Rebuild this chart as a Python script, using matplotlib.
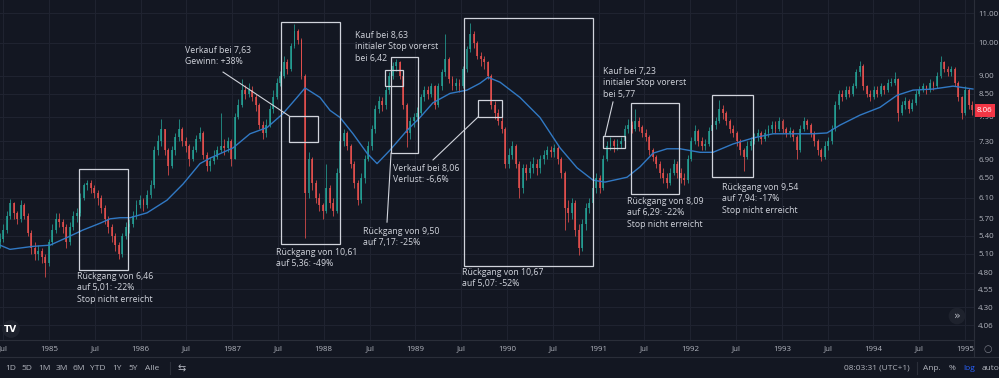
import numpy as np
import matplotlib
matplotlib.use("Agg")
import matplotlib.pyplot as plt
import matplotlib.transforms as mtransforms
from matplotlib.patches import Rectangle
from matplotlib.ticker import NullLocator, NullFormatter

# two-week candles, starting mid 1984
start_year = 1984.46
step_years = 14 / 365.25
first_open = 5.30

close = [
    5.35, 5.50, 5.75, 6.00, 5.80, 5.70, 5.95, 5.75, 5.45, 5.20,
    5.10, 5.15, 5.05, 4.95, 5.30, 5.50, 5.70, 5.65, 5.55, 5.30,
    5.55, 5.75, 5.80, 6.10, 6.35, 6.40, 6.30, 6.20, 6.10, 5.90,
    5.70, 5.55, 5.40, 5.25, 5.10, 5.40, 5.55, 5.60, 5.75, 5.95,
    6.05, 5.95, 6.15, 6.35, 7.10, 7.30, 7.60, 7.10, 6.75, 7.10,
    7.40, 7.60, 7.30, 7.20, 6.90, 7.10, 7.35, 7.50, 7.00, 6.75,
    6.85, 6.95, 7.10, 7.20, 7.15, 7.30, 6.90, 7.90, 8.20, 8.60,
    8.50, 8.60, 8.40, 8.20, 7.70, 7.50, 7.70, 8.10, 8.40, 8.80,
    9.00, 9.40, 9.20, 9.90, 10.40, 10.10, 9.00, 6.20, 6.90, 6.40,
    6.10, 5.95, 5.85, 6.30, 6.00, 5.85, 6.60, 7.30, 7.50, 7.20,
    6.80, 6.40, 6.05, 6.50, 6.90, 7.20, 7.60, 8.10, 8.30, 8.20,
    8.60, 9.00, 9.30, 9.40, 9.00, 8.20, 7.50, 7.80, 7.90, 8.00,
    8.40, 8.60, 8.50, 8.70, 8.20, 8.70, 9.10, 9.50, 8.90, 8.70,
    8.80, 8.70, 9.20, 9.80, 10.30, 10.00, 9.60, 9.50, 9.40, 9.00,
    8.20, 8.00, 7.80, 7.60, 6.80, 7.00, 7.20, 6.80, 6.30, 6.70,
    6.60, 6.70, 6.80, 6.70, 6.90, 7.00, 7.10, 7.05, 7.15, 6.90,
    6.60, 5.90, 5.80, 6.00, 5.50, 5.20, 5.60, 5.90, 6.00, 6.30,
    6.50, 6.30, 6.90, 7.20, 7.30, 7.20, 7.25, 7.30, 7.60, 7.70,
    7.60, 7.80, 7.65, 7.50, 7.40, 7.10, 6.95, 6.80, 6.60, 6.50,
    6.40, 6.60, 6.80, 6.60, 6.50, 6.45, 6.90, 7.30, 7.55, 7.30,
    7.20, 7.25, 7.55, 7.70, 7.80, 8.10, 8.00, 7.80, 7.60, 7.50,
    7.30, 7.10, 6.95, 7.20, 7.30, 7.40, 7.50, 7.35, 7.50, 7.60,
    7.70, 7.60, 7.80, 7.60, 7.50, 7.55, 7.40, 7.10, 7.60, 7.80,
    7.70, 7.50, 7.30, 7.10, 6.95, 7.20, 7.30, 7.60, 8.20, 8.50,
    8.40, 8.60, 8.50, 8.70, 9.10, 9.30, 8.70, 8.50, 8.40, 8.60,
    8.50, 8.70, 8.60, 8.80, 8.80, 8.90, 8.00, 8.20, 8.30, 8.10,
    8.25, 8.50, 8.60, 8.70, 8.60, 8.80, 8.70, 9.00, 9.40, 9.20,
    9.10, 9.20, 8.80, 8.40, 8.00, 8.60, 8.20, 8.06,
]
high = [
    5.45, 5.60, 5.85, 6.08, 6.02, 5.85, 6.05, 6.00, 5.80, 5.50,
    5.30, 5.25, 5.20, 5.10, 5.35, 5.60, 5.80, 5.80, 5.70, 5.60,
    5.65, 5.85, 5.90, 6.20, 6.40, 6.46, 6.45, 6.35, 6.25, 6.15,
    5.95, 5.75, 5.60, 5.45, 5.30, 5.45, 5.65, 5.70, 5.85, 6.05,
    6.15, 6.10, 6.25, 6.45, 7.20, 7.45, 7.85, 7.60, 7.15, 7.20,
    7.50, 7.85, 7.65, 7.40, 7.25, 7.20, 7.45, 7.65, 7.55, 7.05,
    6.95, 7.10, 7.20, 8.00, 7.35, 7.40, 7.35, 8.00, 8.35, 8.90,
    8.75, 8.80, 8.70, 8.50, 8.25, 7.80, 7.85, 8.20, 8.60, 8.95,
    9.15, 9.60, 9.50, 10.00, 10.61, 10.45, 10.15, 9.05, 7.05, 6.95,
    6.45, 6.20, 6.00, 6.80, 6.35, 6.10, 6.70, 7.40, 7.60, 7.55,
    7.25, 6.85, 6.45, 6.60, 7.00, 7.30, 7.70, 8.20, 8.45, 8.40,
    8.70, 9.10, 9.40, 9.50, 9.45, 9.05, 8.25, 7.90, 8.00, 8.15,
    8.50, 8.70, 8.70, 8.80, 8.75, 8.80, 9.20, 10.30, 9.55, 9.00,
    8.95, 8.90, 9.30, 9.90, 10.67, 10.40, 10.05, 9.70, 9.60, 9.45,
    9.05, 8.30, 8.10, 7.90, 7.65, 7.15, 7.30, 7.25, 6.85, 6.80,
    6.80, 6.85, 6.95, 6.90, 7.00, 7.10, 7.20, 7.20, 7.25, 7.20,
    6.95, 6.65, 6.05, 6.10, 6.05, 5.60, 5.70, 6.00, 6.10, 6.40,
    6.60, 6.55, 7.00, 7.30, 7.40, 7.35, 7.35, 7.40, 7.70, 7.85,
    7.80, 8.09, 7.90, 7.70, 7.60, 7.45, 7.15, 7.00, 6.85, 6.70,
    6.60, 6.70, 6.90, 6.85, 6.70, 6.60, 7.00, 7.40, 7.70, 7.60,
    7.40, 7.35, 7.65, 7.80, 7.90, 8.33, 8.20, 8.05, 7.85, 7.70,
    7.55, 7.35, 7.15, 7.30, 7.40, 7.50, 7.60, 7.55, 7.60, 7.70,
    7.80, 7.80, 7.90, 7.85, 7.65, 7.65, 7.60, 7.45, 7.70, 7.90,
    7.85, 7.75, 7.55, 7.35, 7.15, 7.30, 7.40, 7.70, 8.30, 8.60,
    8.60, 8.70, 8.70, 8.80, 9.20, 9.45, 9.35, 8.75, 8.60, 8.70,
    8.70, 8.80, 8.75, 8.90, 8.95, 9.10, 8.95, 8.30, 8.40, 8.35,
    8.35, 8.60, 8.70, 8.80, 8.75, 8.90, 8.85, 9.10, 9.60, 9.45,
    9.30, 9.30, 9.25, 8.85, 8.45, 8.70, 8.65, 8.30,
]
low = [
    5.20, 5.30, 5.45, 5.70, 5.70, 5.60, 5.65, 5.70, 5.40, 5.10,
    5.00, 5.00, 4.95, 4.73, 4.90, 5.25, 5.45, 5.55, 5.45, 5.20,
    5.25, 5.50, 5.65, 5.75, 6.05, 6.25, 6.20, 6.10, 5.95, 5.80,
    5.60, 5.45, 5.30, 5.15, 5.01, 5.05, 5.35, 5.45, 5.55, 5.70,
    5.90, 5.85, 5.90, 6.10, 6.30, 7.00, 7.20, 7.00, 6.55, 6.70,
    7.00, 7.30, 7.20, 7.05, 6.75, 6.85, 7.05, 7.30, 6.90, 6.65,
    6.65, 6.80, 6.90, 7.05, 7.00, 7.05, 6.75, 6.90, 7.85, 8.15,
    8.35, 8.40, 8.30, 8.05, 7.60, 7.35, 7.40, 7.65, 8.00, 8.35,
    8.70, 8.95, 9.05, 9.15, 9.85, 9.95, 8.90, 5.36, 6.10, 6.25,
    6.00, 5.85, 5.70, 5.80, 5.90, 5.75, 5.80, 6.50, 7.20, 7.10,
    6.70, 6.30, 5.95, 6.00, 6.40, 6.85, 7.10, 7.50, 8.00, 8.05,
    8.10, 8.50, 8.90, 9.15, 8.90, 8.10, 7.17, 7.35, 7.65, 7.80,
    7.95, 8.30, 8.35, 8.40, 8.10, 8.15, 8.60, 9.00, 8.80, 8.60,
    8.60, 8.55, 8.65, 9.10, 9.70, 9.85, 9.50, 9.30, 9.20, 8.90,
    8.10, 7.85, 7.70, 7.50, 6.70, 6.70, 6.90, 6.70, 6.10, 6.20,
    6.45, 6.50, 6.60, 6.55, 6.60, 6.80, 6.90, 6.95, 6.95, 6.80,
    6.50, 5.50, 5.65, 5.70, 5.40, 5.07, 5.15, 5.50, 5.80, 5.90,
    6.20, 6.20, 6.25, 6.85, 7.10, 7.05, 7.10, 7.15, 7.25, 7.50,
    7.50, 7.55, 7.55, 7.40, 7.30, 7.00, 6.85, 6.70, 6.50, 6.40,
    6.29, 6.35, 6.55, 6.50, 6.40, 6.35, 6.40, 6.85, 7.25, 7.20,
    7.10, 7.10, 7.20, 7.50, 7.60, 7.75, 7.85, 7.70, 7.50, 7.40,
    7.20, 7.00, 6.65, 6.90, 7.10, 7.25, 7.30, 7.25, 7.30, 7.40,
    7.50, 7.50, 7.55, 7.50, 7.40, 7.40, 7.30, 6.90, 7.05, 7.55,
    7.60, 7.40, 7.20, 7.00, 6.85, 6.90, 7.10, 7.25, 7.55, 8.10,
    8.30, 8.35, 8.40, 8.45, 8.65, 9.00, 8.60, 8.40, 8.30, 8.35,
    8.40, 8.45, 8.50, 8.55, 8.70, 8.75, 7.80, 7.95, 8.10, 8.00,
    8.05, 8.20, 8.45, 8.55, 8.50, 8.55, 8.60, 8.65, 8.95, 9.10,
    9.00, 9.00, 8.70, 8.30, 7.85, 7.95, 8.10, 7.95,
]

# moving average line
ma_years = [
    1984.465, 1984.574, 1984.825, 1985.011, 1985.197, 1985.371, 1985.557,
    1985.666, 1985.775, 1985.884, 1986.070, 1986.288, 1986.463, 1986.648,
    1986.758, 1987.009, 1987.194, 1987.380, 1987.555, 1987.707, 1987.795,
    1987.959, 1988.068, 1988.177, 1988.319, 1988.472, 1988.581, 1988.723,
    1988.908, 1989.050, 1989.192, 1989.378, 1989.563, 1989.705, 1989.793,
    1989.924, 1990.142, 1990.360, 1990.579, 1990.764, 1990.939, 1991.070,
    1991.310, 1991.452, 1991.594, 1991.747, 1991.889, 1992.107, 1992.249,
    1992.467, 1992.686, 1992.904, 1993.122, 1993.341, 1993.493, 1993.635,
    1993.854, 1994.072, 1994.258, 1994.432, 1994.651, 1994.869, 1995.087,
]
ma_values = [
    5.24, 5.17, 5.22, 5.24, 5.37, 5.50, 5.62,
    5.70, 5.72, 5.72, 5.81, 6.05, 6.37, 6.80,
    6.92, 7.15, 7.48, 7.63, 7.98, 8.40, 8.66,
    8.40, 8.06, 7.88, 7.48, 7.03, 6.80, 7.10,
    7.56, 7.88, 8.26, 8.51, 8.60, 8.79, 8.96,
    8.82, 8.40, 7.88, 7.15, 6.71, 6.45, 6.41,
    6.51, 6.73, 7.03, 7.13, 7.13, 7.05, 7.05,
    7.24, 7.38, 7.48, 7.48, 7.48, 7.50, 7.69,
    7.94, 8.14, 8.46, 8.60, 8.63, 8.71, 8.63,
]

price_ticks = [4.06, 4.30, 4.55, 4.80, 5.10, 5.40, 5.70, 6.10, 6.50,
               6.90, 7.30, 7.90, 8.50, 9.00, 10.00, 11.00]
year_ticks = [1984.5, 1985, 1985.5, 1986, 1986.5, 1987, 1987.5, 1988, 1988.5,
              1989, 1989.5, 1990, 1990.5, 1991, 1991.5, 1992, 1992.5, 1993,
              1993.5, 1994, 1994.5, 1995]
year_labels = ["Jul", "1985", "Jul", "1986", "Jul", "1987", "Jul", "1988", "Jul",
               "1989", "Jul", "1990", "Jul", "1991", "Jul", "1992", "Jul", "1993",
               "Jul", "1994", "Jul", "1995"]
last_price = 8.06

BG = "#131722"
GRID = "#1f2330"
SEP = "#2a2e39"
TXT = "#b2b5be"
ANN = "#d1d4dc"
UP = "#26a69a"
DOWN = "#ef5350"
MA_COLOR = "#3179c4"
FONT = "Open Sans"

W, H = 999, 378
fig = plt.figure(figsize=(W / 100, H / 100), dpi=100, facecolor=BG)
ax = fig.add_axes([0, 38 / H, 974 / W, 340 / H])
ax.set_facecolor(BG)
ax.set_yscale("log")
ax.set_xlim(1984.465, 1995.098)
ax.set_ylim(3.87, 11.47)

# axes / grid
ax.yaxis.tick_right()
ax.set_yticks(price_ticks)
ax.set_yticklabels([f"{v:.2f}" for v in price_ticks], fontfamily=FONT)
ax.yaxis.set_minor_locator(NullLocator())
ax.yaxis.set_minor_formatter(NullFormatter())
ax.set_xticks(year_ticks)
ax.set_xticklabels(year_labels, fontfamily=FONT)
ax.tick_params(axis="both", length=0, labelsize=5.7, labelcolor=TXT)
ax.tick_params(axis="y", pad=3)
ax.tick_params(axis="x", pad=4)
ax.grid(True, color=GRID, lw=0.8)
ax.set_axisbelow(True)
for s in ["top", "left", "right"]:
    ax.spines[s].set_visible(False)
ax.spines["bottom"].set_color(SEP)

# candles
c = np.array(close)
o = np.array([first_open] + close[:-1])
hi = np.array(high)
lo = np.array(low)
x = start_year + step_years * np.arange(len(c))
cols = np.where(c >= o, UP, DOWN)
ax.vlines(x, lo, hi, colors=cols, lw=0.7, alpha=0.75, zorder=2)
body_lo = np.minimum(o, c)
body_h = np.maximum(np.abs(c - o), 0.02)
ax.bar(x, body_h, bottom=body_lo, width=step_years * 0.55, color=cols,
       lw=0, alpha=0.75, zorder=2)

ax.plot(ma_years, ma_values, color=MA_COLOR, lw=1.0, zorder=3)

# drawings
boxes = [
    (1985.33, 4.84, 1985.86, 6.68),
    (1987.533, 5.26, 1988.177, 10.69),
    (1987.62, 7.29, 1987.937, 7.92),
    (1988.668, 8.71, 1988.865, 9.17),
    (1988.734, 7.03, 1989.028, 9.56),
    (1989.531, 4.90, 1990.939, 10.83),
    (1989.683, 7.89, 1989.945, 8.33),
    (1991.048, 7.15, 1991.288, 7.43),
    (1991.354, 6.17, 1991.878, 8.25),
    (1992.238, 6.51, 1992.686, 8.46),
]
for x0, y0, x1, y1 in boxes:
    ax.add_patch(Rectangle((x0, y0), x1 - x0, y1 - y0, fill=False,
                           ec=ANN, lw=0.9, zorder=4))

links = [
    ((1986.900, 9.11), (1987.620, 7.92)),
    ((1988.690, 5.64), (1988.734, 7.03)),
    ((1989.192, 6.88), (1989.683, 7.89)),
    ((1991.157, 8.28), (1991.070, 7.43)),
]
for (xa, ya), (xb, yb) in links:
    ax.plot([xa, xb], [ya, yb], color=ANN, lw=0.8, zorder=4)

notes = [
    (1986.485, 9.90, "Verkauf bei 7,63\nGewinn: +38%"),
    (1985.306, 4.81, "Rückgang von 6,46\nauf 5,01: -22%\nStop nicht erreicht"),
    (1987.478, 5.19, "Rückgang von 10,61\nauf 5,36: -49%"),
    (1988.341, 10.39, "Kauf bei 8,63\ninitialer Stop vorerst\nbei 6,42"),
    (1988.755, 6.79, "Verkauf bei 8,06\nVerlust: -6,6%"),
    (1988.428, 5.55, "Rückgang von 9,50\nauf 7,17: -25%"),
    (1989.509, 4.87, "Rückgang von 10,67\nauf 5,07: -52%"),
    (1991.048, 9.26, "Kauf bei 7,23\ninitialer Stop vorerst\nbei 5,77"),
    (1991.310, 6.11, "Rückgang von 8,09\nauf 6,29: -22%\nStop nicht erreicht"),
    (1992.347, 6.39, "Rückgang von 9,54\nauf 7,94: -17%\nStop nicht erreicht"),
]
for tx, ty, s in notes:
    ax.text(tx, ty, s, color=ANN, fontsize=6.3, fontfamily=FONT,
            va="top", ha="left", linespacing=1.33, zorder=5)

# last price tag
trans = mtransforms.blended_transform_factory(ax.transAxes, ax.transData)
ax.text(1.003, last_price, f"{last_price:.2f}", transform=trans, color="white",
        fontsize=5.7, fontfamily=FONT, va="center", ha="left", clip_on=False,
        zorder=6, bbox=dict(boxstyle="square,pad=0.35", fc="#f23645", ec="none"))

# price scale separator, bottom toolbar
fig.add_artist(plt.Line2D([974 / W, 974 / W], [1 - 357 / H, 1], color=SEP, lw=0.8))
fig.add_artist(plt.Line2D([0, 1], [1 - 357 / H] * 2, color=SEP, lw=0.8))
fig.add_artist(plt.Line2D([170 / W] * 2, [1 - 374 / H, 1 - 362 / H], color=SEP, lw=0.8))
fig.add_artist(plt.Line2D([917 / W] * 2, [1 - 374 / H, 1 - 362 / H], color=SEP, lw=0.8))

ty = 1 - 368 / H
for px, s in [(11, "1D"), (27, "5D"), (44, "1M"), (62, "3M"), (79, "6M"),
              (98, "YTD"), (117, "1Y"), (133, "5Y"), (152, "Alle")]:
    fig.text(px / W, ty, s, color=TXT, fontsize=6.0, fontfamily=FONT,
             ha="center", va="center")
fig.text(182 / W, ty, "⇆", color=TXT, fontsize=7, ha="center", va="center")
fig.text(877 / W, ty, "08:03:31 (UTC+1)", color=TXT, fontsize=6.0,
         fontfamily=FONT, ha="center", va="center")
fig.text(932 / W, ty, "Anp.", color=TXT, fontsize=6.0, fontfamily=FONT,
         ha="center", va="center")
fig.text(952 / W, ty, "%", color=TXT, fontsize=6.0, fontfamily=FONT,
         ha="center", va="center")
fig.text(969 / W, ty, "log", color="#2962ff", fontsize=6.0, fontfamily=FONT,
         ha="center", va="center")
fig.text(991 / W, ty, "auto", color=TXT, fontsize=6.0, fontfamily=FONT,
         ha="center", va="center")

# logo, scroll button, settings
fig.text(11 / W, 1 - 329 / H, "TV", color="white", fontsize=6.5,
         fontweight="bold", ha="center", va="center",
         bbox=dict(boxstyle="circle,pad=0.25", fc="#1e222d", ec="none"))
fig.text(957 / W, 1 - 316 / H, "»", color=TXT, fontsize=8, ha="center",
         va="center", bbox=dict(boxstyle="circle,pad=0.3", fc="#1e222d", ec="none"))
fig.text(988 / W, 1 - 349 / H, "○", color="#787b86", fontsize=7,
         ha="center", va="center")

fig.savefig("out.png", dpi=100, facecolor=BG)
